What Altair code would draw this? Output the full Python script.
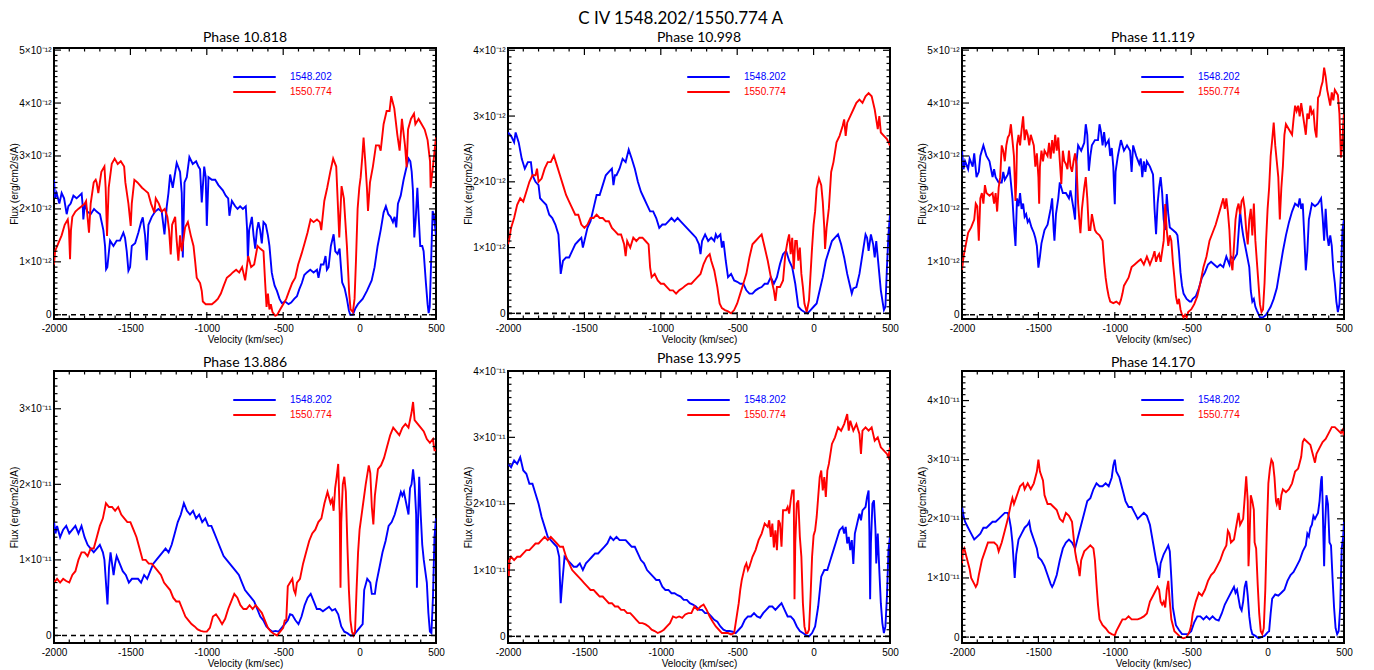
import altair as alt
import pandas as pd

TITLE = "C IV 1548.202/1550.774 A"
PHASES = ["Phase 10.818", "Phase 10.998", "Phase 11.119",
          "Phase 13.886", "Phase 13.995", "Phase 14.170"]
LINES = ["1548.202", "1550.774"]
COLORS = ["#0000ff", "#ff0000"]
EXPONENTS = ["⁻¹²", "⁻¹²", "⁻¹²", "⁻¹¹", "⁻¹¹", "⁻¹¹"]
Y_RANGES = [(-0.08, 5.04), (-0.086, 4.035), (-0.08, 5.04),
            (-0.1, 3.5), (-0.1, 4.0), (-0.1, 4.5)]
X_LABELS = [-2000, -1500, -1000, -500, 0, 500]

# (velocity km/s, flux in units of 1e-12 for the top row, 1e-11 for the bottom row)
P1_BLUE = [(-2000,2.55),(-1993,2.2),(-1983,2.3),(-1965,2.1),(-1950,2.3),(-1934,2.2),(-1917,1.9),(-1906,2.05),(-1891,2.1),(-1873,2.25),(-1852,2.2),(-1819,2.29),(-1812,2.05),(-1808,1.8),(-1797,2.1),(-1782,1.95),(-1760,1.9),(-1738,2.0),(-1721,1.95),(-1699,1.9),(-1677,1.6),(-1666,1.3),(-1659,0.86),(-1651,0.9),(-1633,1.4),(-1611,1.3),(-1590,1.4),(-1568,1.4),(-1546,1.55),(-1535,1.45),(-1524,1.2),(-1513,0.83),(-1502,0.9),(-1491,1.3),(-1469,1.35),(-1448,1.55),(-1430,1.75),(-1419,1.84),(-1404,1.5),(-1393,1.03),(-1382,1.7),(-1360,1.85),(-1338,1.95),(-1317,2.0),(-1295,1.95),(-1277,1.52),(-1262,2.05),(-1251,2.3),(-1240,2.65),(-1223,2.4),(-1197,2.87),(-1175,2.7),(-1164,2.3),(-1157,1.08),(-1146,2.5),(-1131,2.6),(-1114,2.98),(-1092,2.85),(-1070,2.9),(-1055,2.8),(-1044,2.75),(-1033,2.12),(-1017,2.8),(-1007,2.6),(-1000,1.68),(-989,2.6),(-967,2.55),(-945,2.55),(-924,2.45),(-895,2.35),(-876,2.25),(-860,2.2),(-852,1.87),(-836,2.15),(-814,2.05),(-799,2.0),(-782,2.05),(-764,2.0),(-745,2.05),(-736,1.6),(-731,1.05),(-723,1.6),(-705,1.85),(-694,1.5),(-683,1.25),(-672,1.6),(-662,1.75),(-651,1.6),(-640,1.35),(-629,1.75),(-614,1.7),(-600,1.5),(-590,1.3),(-575,0.8),(-568,0.7),(-556,0.55),(-541,0.45),(-524,0.3),(-509,0.22),(-487,0.25),(-465,0.2),(-448,0.23),(-428,0.3),(-410,0.35),(-395,0.48),(-378,0.6),(-362,0.75),(-345,0.8),(-323,0.85),(-301,0.8),(-279,0.85),(-269,0.7),(-253,0.95),(-236,0.95),(-223,1.11),(-214,0.85),(-203,0.9),(-188,1.3),(-170,1.52),(-159,1.2),(-144,1.15),(-131,1.25),(-122,0.9),(-114,0.61),(-98,0.5),(-83,0.3),(-70,0.08),(-61,0.0),(-44,0.0),(-28,0.12),(-11,0.2),(20,0.3),(48,0.45),(79,0.65),(98,0.9),(118,1.3),(138,1.6),(157,1.93),(172,2.05),(188,1.9),(203,1.85),(218,1.75),(229,1.85),(240,1.65),(251,2.1),(269,2.25),(288,2.55),(308,2.8),(321,2.95),(332,2.9),(341,2.7),(349,2.35),(358,1.46),(367,1.8),(378,2.4),(386,1.9),(397,1.3),(410,1.3),(419,1.2),(434,0.6),(445,0.2),(452,0.03),(459,0.15),(467,0.9),(478,1.96),(485,1.9),(500,1.5)]
P1_RED = [(-2000,0.95),(-1993,1.2),(-1972,1.35),(-1950,1.5),(-1930,1.7),(-1910,1.8),(-1902,1.6),(-1895,1.05),(-1889,1.6),(-1880,1.85),(-1860,1.95),(-1841,2.0),(-1819,2.05),(-1799,2.1),(-1790,2.15),(-1779,1.8),(-1771,1.55),(-1760,2.1),(-1740,2.5),(-1727,2.55),(-1721,2.5),(-1710,2.3),(-1690,2.7),(-1670,2.8),(-1662,2.4),(-1653,1.49),(-1642,2.4),(-1622,2.85),(-1603,2.95),(-1583,2.85),(-1563,2.9),(-1541,2.8),(-1533,2.5),(-1513,2.1),(-1498,1.68),(-1491,2.1),(-1474,2.55),(-1454,2.5),(-1424,2.4),(-1404,2.35),(-1384,2.3),(-1365,2.1),(-1343,1.93),(-1334,2.2),(-1314,2.1),(-1295,1.95),(-1275,2.0),(-1258,1.85),(-1247,1.6),(-1236,1.14),(-1227,1.7),(-1207,1.85),(-1197,1.4),(-1186,1.02),(-1175,1.5),(-1164,1.2),(-1142,1.65),(-1124,1.75),(-1105,1.5),(-1087,1.3),(-1076,1.0),(-1066,0.7),(-1044,0.6),(-1033,0.45),(-1026,0.25),(-1007,0.2),(-985,0.2),(-967,0.2),(-945,0.25),(-928,0.3),(-908,0.4),(-889,0.55),(-869,0.7),(-847,0.75),(-830,0.8),(-808,0.85),(-788,0.8),(-769,0.9),(-749,0.65),(-729,1.11),(-710,0.9),(-690,0.95),(-668,1.3),(-651,1.25),(-629,1.2),(-618,0.6),(-609,0.15),(-600,0.4),(-590,0.1),(-581,0.2),(-570,0.05),(-552,-0.02),(-539,0.0),(-520,0.1),(-500,0.2),(-480,0.3),(-461,0.45),(-441,0.6),(-421,0.7),(-402,0.95),(-380,1.15),(-360,1.35),(-341,1.55),(-321,1.8),(-301,1.75),(-279,1.8),(-260,1.75),(-251,1.6),(-231,2.15),(-212,2.4),(-192,2.7),(-173,2.95),(-153,2.8),(-133,1.46),(-118,2.43),(-103,2.2),(-83,1.3),(-68,0.4),(-59,0.1),(-44,0.05),(-33,0.3),(-24,1.0),(-13,2.0),(-2,2.4),(7,2.6),(18,3.0),(26,3.35),(37,2.9),(48,2.4),(55,1.96),(68,2.5),(87,2.8),(107,3.2),(127,3.2),(138,3.1),(157,3.6),(177,3.85),(196,3.85),(207,4.13),(227,3.9),(247,3.4),(262,3.1),(277,3.7),(297,3.2),(308,2.79),(317,3.5),(336,3.7),(356,3.8),(365,3.6),(386,3.7),(406,3.6),(426,3.5),(445,3.3),(461,2.9),(465,2.4),(480,2.8),(500,3.35)]
P2_BLUE = [(-2000,2.75),(-1980,2.7),(-1960,2.6),(-1950,2.75),(-1930,2.6),(-1910,2.35),(-1890,2.2),(-1870,2.3),(-1850,2.3),(-1840,2.1),(-1820,2.0),(-1800,1.95),(-1790,1.75),(-1770,1.7),(-1750,1.65),(-1730,1.5),(-1710,1.45),(-1690,1.35),(-1670,1.2),(-1655,0.6),(-1640,0.8),(-1620,0.85),(-1600,0.85),(-1580,0.95),(-1560,1.05),(-1540,1.1),(-1520,1.15),(-1510,1.0),(-1500,1.1),(-1480,1.3),(-1460,1.4),(-1440,1.6),(-1420,1.8),(-1400,1.8),(-1380,1.95),(-1360,2.1),(-1340,2.15),(-1320,2.2),(-1310,1.95),(-1300,2.1),(-1290,2.1),(-1270,2.2),(-1250,2.35),(-1230,2.3),(-1210,2.49),(-1190,2.35),(-1170,2.2),(-1150,2.0),(-1130,1.85),(-1110,1.75),(-1090,1.65),(-1070,1.55),(-1050,1.55),(-1030,1.45),(-1010,1.3),(-990,1.35),(-970,1.35),(-950,1.4),(-930,1.45),(-910,1.4),(-890,1.45),(-870,1.4),(-850,1.35),(-830,1.3),(-810,1.25),(-790,1.2),(-770,1.15),(-750,1.05),(-740,0.9),(-730,1.1),(-710,1.2),(-690,1.1),(-670,1.15),(-650,1.1),(-640,1.2),(-630,1.15),(-610,1.2),(-600,1.0),(-590,1.1),(-575,0.8),(-560,0.55),(-540,0.6),(-520,0.5),(-500,0.48),(-480,0.45),(-460,0.45),(-440,0.35),(-420,0.3),(-400,0.3),(-380,0.35),(-360,0.38),(-340,0.4),(-320,0.45),(-300,0.45),(-280,0.55),(-260,0.45),(-240,0.55),(-220,0.75),(-200,0.9),(-180,0.95),(-160,0.8),(-140,0.7),(-120,0.45),(-100,0.1),(-80,0.05),(-60,0.02),(-40,0.0),(-20,0.05),(0,0.1),(20,0.15),(40,0.35),(60,0.55),(80,0.8),(100,0.95),(120,1.1),(140,1.15),(160,1.2),(180,1.05),(200,0.85),(220,0.6),(240,0.4),(250,0.3),(260,0.38),(280,0.4),(300,0.6),(320,0.9),(340,1.2),(350,1.15),(360,0.95),(375,1.2),(390,1.05),(400,0.85),(410,1.1),(420,0.85),(440,0.35),(460,0.05),(470,0.1),(480,0.7),(490,1.2),(500,1.5)]
P2_RED = [(-2000,1.05),(-1990,1.15),(-1980,1.3),(-1960,1.45),(-1940,1.65),(-1920,1.75),(-1900,1.7),(-1880,1.85),(-1860,2.0),(-1840,2.1),(-1820,2.1),(-1810,2.2),(-1800,2.0),(-1780,2.05),(-1760,2.2),(-1740,2.3),(-1720,2.3),(-1700,2.4),(-1680,2.25),(-1660,2.1),(-1640,1.95),(-1620,1.8),(-1600,1.7),(-1580,1.6),(-1560,1.5),(-1540,1.5),(-1520,1.35),(-1500,1.3),(-1480,1.35),(-1460,1.45),(-1440,1.45),(-1420,1.5),(-1400,1.45),(-1380,1.45),(-1360,1.4),(-1340,1.4),(-1320,1.3),(-1300,1.25),(-1280,1.2),(-1260,1.2),(-1240,1.05),(-1230,0.87),(-1220,1.1),(-1200,1.0),(-1180,1.15),(-1160,1.1),(-1140,1.15),(-1120,1.15),(-1100,1.1),(-1080,1.05),(-1070,0.7),(-1060,0.55),(-1040,0.6),(-1020,0.5),(-1000,0.45),(-980,0.45),(-960,0.4),(-940,0.35),(-920,0.35),(-900,0.3),(-880,0.35),(-860,0.38),(-840,0.42),(-820,0.45),(-800,0.45),(-780,0.5),(-760,0.55),(-740,0.6),(-720,0.75),(-700,0.85),(-680,0.9),(-670,0.8),(-650,0.65),(-630,0.4),(-615,0.15),(-600,0.08),(-580,0.05),(-560,0.03),(-540,0.0),(-520,0.05),(-500,0.15),(-480,0.3),(-460,0.45),(-440,0.6),(-420,0.85),(-400,1.05),(-380,1.1),(-360,1.15),(-340,1.2),(-320,1.0),(-300,0.8),(-280,0.55),(-260,0.35),(-250,0.19),(-240,0.4),(-220,0.4),(-200,0.5),(-185,0.9),(-170,1.1),(-160,1.2),(-150,0.9),(-140,1.15),(-130,0.67),(-120,1.1),(-110,1.1),(-100,0.8),(-90,1.0),(-80,0.6),(-70,0.4),(-60,0.15),(-45,0.02),(-30,0.2),(-20,0.6),(-10,1.0),(0,1.35),(10,1.55),(20,1.9),(35,2.05),(50,1.95),(60,1.7),(70,1.3),(75,0.98),(85,1.3),(100,1.6),(115,2.15),(130,2.3),(150,2.6),(170,2.7),(190,2.85),(200,2.95),(210,2.7),(220,2.9),(240,3.0),(260,3.1),(280,3.2),(300,3.25),(320,3.2),(340,3.3),(360,3.35),(380,3.3),(400,3.1),(410,2.95),(420,2.8),(430,3.0),(440,2.75),(460,2.7),(480,2.65),(500,2.55)]
P3_BLUE = [(-2000,3.1),(-1990,2.75),(-1980,2.9),(-1960,2.75),(-1950,2.95),(-1930,2.8),(-1920,3.05),(-1905,2.6),(-1890,2.7),(-1880,3.0),(-1860,3.2),(-1840,3.0),(-1820,2.9),(-1800,2.6),(-1790,2.75),(-1780,2.6),(-1760,2.5),(-1740,2.5),(-1730,2.7),(-1720,2.55),(-1700,2.65),(-1690,2.8),(-1680,2.5),(-1670,2.2),(-1660,1.7),(-1650,1.3),(-1640,2.2),(-1630,2.05),(-1620,2.3),(-1610,2.0),(-1600,2.1),(-1590,1.85),(-1580,1.9),(-1570,1.75),(-1560,1.8),(-1545,1.65),(-1530,1.55),(-1520,1.45),(-1510,1.3),(-1500,0.89),(-1490,1.1),(-1480,1.35),(-1460,1.6),(-1440,1.7),(-1420,2.0),(-1410,2.2),(-1400,1.6),(-1395,1.4),(-1385,1.9),(-1370,2.2),(-1360,2.5),(-1340,2.3),(-1320,2.3),(-1300,2.2),(-1290,2.35),(-1270,2.0),(-1260,1.8),(-1250,2.9),(-1240,3.2),(-1220,3.1),(-1200,3.25),(-1190,3.6),(-1180,3.4),(-1170,2.72),(-1160,3.0),(-1150,3.2),(-1130,3.3),(-1110,3.3),(-1100,3.6),(-1090,3.45),(-1080,3.2),(-1070,3.45),(-1060,3.2),(-1040,3.3),(-1030,3.0),(-1020,3.15),(-1010,2.8),(-1005,2.4),(-1000,2.09),(-995,2.7),(-980,3.0),(-960,3.3),(-940,3.1),(-920,3.2),(-900,3.1),(-890,2.7),(-880,3.2),(-860,3.0),(-840,2.85),(-830,2.95),(-820,2.6),(-810,2.9),(-800,2.7),(-790,2.9),(-770,2.8),(-750,2.65),(-740,2.0),(-730,1.52),(-720,2.1),(-710,2.4),(-700,2.6),(-690,2.3),(-680,1.8),(-670,1.6),(-660,2.28),(-650,1.9),(-640,1.65),(-620,1.6),(-600,1.55),(-590,1.5),(-580,1.2),(-570,0.8),(-560,0.55),(-550,0.4),(-530,0.3),(-510,0.25),(-500,0.25),(-490,0.3),(-470,0.35),(-450,0.5),(-430,0.7),(-410,0.8),(-390,0.95),(-370,1.0),(-350,0.95),(-330,0.9),(-310,0.95),(-290,0.9),(-270,1.1),(-250,0.95),(-240,1.1),(-220,1.05),(-200,1.15),(-190,1.55),(-180,1.96),(-170,1.7),(-160,1.5),(-150,1.35),(-140,1.2),(-120,0.9),(-110,0.45),(-100,0.25),(-90,0.3),(-80,0.15),(-70,0.08),(-50,-0.05),(-30,-0.05),(-10,0.0),(0,0.05),(20,0.15),(40,0.3),(60,0.5),(80,0.85),(100,1.2),(120,1.5),(140,1.75),(160,1.95),(180,2.1),(200,2.05),(210,2.2),(220,2.0),(230,2.1),(240,1.5),(250,0.84),(260,1.2),(270,1.8),(290,2.1),(310,2.05),(330,2.1),(350,2.2),(360,1.85),(370,1.4),(380,2.0),(390,1.5),(400,1.3),(410,1.5),(420,1.3),(430,0.85),(440,0.6),(450,0.25),(460,0.05),(470,0.2),(480,0.8),(490,1.6),(500,1.8)]
P3_RED = [(-2000,0.85),(-1990,1.1),(-1980,1.25),(-1960,1.55),(-1940,1.65),(-1920,1.8),(-1910,2.1),(-1900,2.05),(-1890,1.4),(-1880,2.2),(-1870,2.3),(-1860,2.1),(-1850,2.45),(-1840,2.3),(-1820,2.25),(-1800,2.3),(-1790,2.1),(-1780,2.3),(-1770,1.95),(-1760,2.4),(-1750,2.6),(-1740,3.2),(-1730,3.1),(-1720,2.9),(-1710,3.2),(-1700,3.35),(-1690,3.4),(-1680,3.6),(-1670,3.3),(-1660,3.0),(-1650,2.15),(-1645,2.5),(-1640,3.2),(-1630,3.4),(-1620,3.2),(-1610,3.5),(-1600,3.75),(-1590,3.3),(-1580,3.5),(-1570,3.4),(-1560,3.2),(-1550,3.4),(-1540,3.3),(-1530,3.2),(-1520,2.8),(-1510,3.05),(-1500,2.6),(-1495,2.1),(-1490,2.8),(-1480,3.1),(-1470,2.9),(-1460,3.1),(-1440,3.0),(-1430,3.25),(-1420,2.95),(-1410,3.3),(-1400,3.05),(-1390,3.4),(-1380,3.1),(-1370,3.35),(-1360,2.9),(-1350,2.47),(-1340,3.1),(-1330,2.9),(-1320,2.85),(-1310,2.75),(-1300,3.1),(-1290,2.8),(-1280,2.7),(-1270,2.9),(-1260,3.05),(-1250,2.8),(-1240,2.1),(-1230,1.7),(-1225,1.54),(-1215,2.0),(-1200,2.4),(-1190,2.6),(-1180,2.2),(-1170,1.6),(-1160,1.6),(-1150,1.9),(-1140,1.75),(-1130,1.6),(-1120,1.55),(-1100,1.5),(-1090,1.45),(-1080,1.4),(-1070,1.0),(-1060,0.7),(-1050,0.5),(-1040,0.35),(-1030,0.25),(-1010,0.22),(-990,0.25),(-970,0.2),(-960,0.28),(-950,0.4),(-940,0.55),(-930,0.6),(-910,0.7),(-890,0.9),(-870,0.95),(-850,1.0),(-830,1.05),(-810,0.95),(-790,1.1),(-770,0.95),(-750,1.1),(-740,1.2),(-730,1.0),(-720,1.1),(-710,1.15),(-700,1.0),(-690,1.2),(-680,1.4),(-670,2.09),(-660,1.6),(-650,1.3),(-640,1.5),(-630,1.4),(-620,1.0),(-610,0.7),(-600,0.35),(-590,0.2),(-580,0.3),(-570,0.1),(-560,0.0),(-550,-0.05),(-540,0.0),(-530,-0.05),(-520,0.05),(-500,0.1),(-480,0.2),(-460,0.35),(-440,0.6),(-420,0.9),(-400,1.1),(-380,1.4),(-360,1.55),(-340,1.7),(-320,1.9),(-300,2.1),(-290,2.2),(-280,2.0),(-270,2.2),(-260,1.95),(-250,1.6),(-240,1.0),(-230,0.84),(-220,1.3),(-210,1.8),(-200,2.0),(-190,2.1),(-180,1.9),(-170,2.15),(-160,2.2),(-150,2.0),(-140,1.6),(-130,1.33),(-120,1.8),(-110,2.0),(-100,1.5),(-90,2.1),(-80,1.4),(-70,1.0),(-60,0.6),(-50,0.2),(-40,0.05),(-30,0.1),(-20,0.6),(-10,1.4),(0,2.0),(10,2.4),(20,3.0),(30,3.3),(40,3.63),(50,3.2),(60,2.9),(70,2.6),(80,1.8),(90,2.4),(100,2.8),(110,3.4),(120,3.6),(140,3.5),(160,3.4),(170,3.7),(180,3.95),(190,3.85),(200,3.95),(210,3.75),(220,4.0),(230,3.8),(240,3.6),(250,3.4),(260,3.8),(270,3.7),(280,3.95),(290,3.8),(300,3.85),(310,3.5),(320,3.35),(330,4.1),(340,4.15),(350,4.3),(360,4.4),(370,4.67),(380,4.5),(390,4.25),(400,4.1),(410,3.95),(420,4.2),(430,4.05),(440,4.25),(450,4.2),(460,4.15),(470,3.8),(480,2.97),(490,3.3),(495,3.6),(500,3.8)]
P4_BLUE = [(-2000,1.5),(-1990,1.35),(-1980,1.45),(-1960,1.3),(-1940,1.4),(-1920,1.45),(-1900,1.35),(-1880,1.4),(-1860,1.45),(-1840,1.35),(-1820,1.45),(-1800,1.3),(-1780,1.2),(-1760,1.15),(-1740,1.1),(-1720,1.15),(-1700,1.2),(-1690,1.15),(-1680,1.1),(-1670,1.0),(-1660,0.7),(-1650,0.41),(-1640,0.9),(-1630,1.1),(-1620,0.95),(-1610,0.8),(-1600,0.95),(-1590,1.05),(-1570,0.95),(-1550,0.85),(-1530,0.8),(-1510,0.7),(-1490,0.75),(-1470,0.75),(-1450,0.75),(-1430,0.7),(-1410,0.8),(-1390,0.75),(-1370,0.85),(-1350,0.95),(-1330,1.0),(-1310,1.05),(-1290,1.1),(-1270,1.15),(-1250,1.1),(-1230,1.2),(-1210,1.35),(-1190,1.5),(-1170,1.6),(-1150,1.75),(-1130,1.65),(-1110,1.6),(-1090,1.65),(-1070,1.55),(-1050,1.6),(-1030,1.5),(-1010,1.55),(-990,1.45),(-970,1.45),(-950,1.35),(-930,1.25),(-910,1.15),(-890,1.05),(-870,1.0),(-850,0.95),(-830,0.9),(-810,0.85),(-790,0.8),(-770,0.7),(-750,0.6),(-730,0.55),(-710,0.5),(-690,0.45),(-670,0.35),(-650,0.25),(-630,0.2),(-610,0.12),(-590,0.08),(-570,0.05),(-550,0.06),(-530,0.05),(-510,0.1),(-490,0.15),(-470,0.2),(-455,0.28),(-440,0.27),(-420,0.2),(-400,0.15),(-380,0.25),(-360,0.4),(-340,0.5),(-320,0.55),(-300,0.45),(-280,0.35),(-260,0.35),(-240,0.32),(-220,0.35),(-200,0.38),(-180,0.33),(-160,0.35),(-140,0.28),(-120,0.12),(-100,0.05),(-80,0.03),(-60,0.0),(-40,0.0),(-20,0.05),(0,0.1),(20,0.15),(30,0.6),(50,0.75),(70,0.7),(80,0.55),(100,0.55),(110,0.7),(130,0.9),(150,1.1),(170,1.25),(190,1.45),(210,1.5),(230,1.6),(250,1.75),(270,1.9),(280,1.85),(290,1.9),(300,1.8),(310,1.7),(320,1.6),(330,1.95),(340,2.0),(350,2.2),(360,2.0),(370,1.6),(375,0.63),(380,1.3),(390,2.1),(400,1.6),(410,1.2),(420,1.0),(440,0.7),(450,0.3),(460,0.05),(470,0.03),(480,0.5),(490,1.3),(500,1.55)]
P4_RED = [(-2000,0.7),(-1980,0.75),(-1960,0.7),(-1940,0.75),(-1920,0.72),(-1900,0.7),(-1880,0.8),(-1860,0.85),(-1840,1.0),(-1820,1.1),(-1800,1.1),(-1780,1.05),(-1760,1.15),(-1740,1.15),(-1720,1.3),(-1700,1.45),(-1680,1.55),(-1660,1.75),(-1640,1.7),(-1620,1.7),(-1600,1.65),(-1580,1.7),(-1560,1.6),(-1540,1.55),(-1520,1.5),(-1500,1.5),(-1480,1.4),(-1460,1.3),(-1440,1.15),(-1420,1.0),(-1400,1.0),(-1380,0.95),(-1360,0.95),(-1340,0.9),(-1320,0.85),(-1300,0.8),(-1280,0.7),(-1260,0.65),(-1240,0.6),(-1220,0.5),(-1200,0.45),(-1180,0.45),(-1160,0.35),(-1140,0.25),(-1120,0.2),(-1100,0.15),(-1080,0.12),(-1060,0.08),(-1040,0.06),(-1020,0.05),(-1000,0.05),(-980,0.1),(-960,0.25),(-940,0.28),(-920,0.22),(-900,0.15),(-880,0.22),(-860,0.35),(-840,0.45),(-820,0.55),(-800,0.5),(-780,0.4),(-760,0.35),(-740,0.35),(-720,0.4),(-700,0.35),(-680,0.4),(-660,0.35),(-640,0.3),(-620,0.2),(-600,0.1),(-580,0.05),(-560,0.02),(-540,0.0),(-520,0.05),(-500,0.1),(-490,0.2),(-480,0.2),(-470,0.65),(-455,0.7),(-440,0.75),(-430,0.6),(-420,0.55),(-410,0.7),(-390,0.75),(-370,0.95),(-350,1.1),(-330,1.25),(-310,1.35),(-290,1.4),(-270,1.5),(-250,1.55),(-230,1.75),(-210,1.9),(-190,1.75),(-180,1.8),(-170,1.65),(-160,1.95),(-150,2.1),(-140,2.27),(-130,1.6),(-125,0.63),(-120,1.5),(-110,2.0),(-100,2.1),(-90,1.9),(-80,1.2),(-70,0.6),(-60,0.2),(-50,0.05),(-40,0.0),(-30,0.05),(-20,0.6),(-10,1.1),(0,1.4),(20,1.7),(40,2.0),(60,2.25),(70,2.15),(80,1.7),(90,1.47),(100,1.85),(120,2.2),(140,2.25),(160,2.35),(180,2.5),(200,2.65),(220,2.75),(240,2.7),(260,2.65),(280,2.75),(300,2.8),(320,2.75),(340,2.95),(350,3.09),(360,2.85),(380,2.8),(400,2.75),(420,2.7),(440,2.6),(460,2.55),(480,2.6),(490,2.45),(500,2.45)]
P5_BLUE = [(-2000,2.6),(-1980,2.55),(-1960,2.65),(-1940,2.6),(-1920,2.7),(-1900,2.5),(-1880,2.45),(-1860,2.3),(-1840,2.3),(-1820,2.15),(-1800,2.0),(-1780,1.8),(-1760,1.65),(-1740,1.5),(-1720,1.45),(-1700,1.4),(-1680,1.35),(-1665,1.2),(-1655,0.5),(-1645,0.8),(-1630,1.2),(-1610,1.15),(-1590,1.1),(-1570,1.05),(-1550,1.05),(-1530,1.1),(-1510,1.0),(-1490,1.1),(-1470,1.15),(-1450,1.2),(-1430,1.25),(-1410,1.25),(-1390,1.3),(-1370,1.35),(-1350,1.4),(-1330,1.5),(-1310,1.45),(-1290,1.5),(-1270,1.45),(-1250,1.45),(-1230,1.45),(-1210,1.4),(-1190,1.35),(-1170,1.35),(-1150,1.25),(-1130,1.15),(-1110,1.1),(-1090,1.0),(-1070,0.95),(-1050,0.9),(-1030,0.85),(-1010,0.85),(-990,0.75),(-970,0.7),(-950,0.7),(-930,0.65),(-910,0.65),(-890,0.62),(-870,0.6),(-850,0.55),(-830,0.55),(-810,0.5),(-790,0.48),(-770,0.45),(-750,0.4),(-730,0.4),(-710,0.35),(-690,0.35),(-670,0.3),(-650,0.25),(-630,0.22),(-610,0.15),(-590,0.1),(-570,0.08),(-550,0.08),(-530,0.07),(-510,0.05),(-490,0.1),(-470,0.15),(-450,0.25),(-430,0.3),(-410,0.3),(-390,0.35),(-370,0.3),(-350,0.28),(-330,0.35),(-310,0.4),(-290,0.45),(-270,0.45),(-250,0.4),(-230,0.45),(-210,0.5),(-190,0.4),(-170,0.3),(-150,0.3),(-130,0.25),(-110,0.15),(-90,0.08),(-70,0.05),(-50,0.02),(-30,0.0),(-10,0.05),(10,0.15),(30,0.45),(50,0.9),(70,1.0),(90,1.0),(110,1.15),(130,1.3),(150,1.45),(170,1.6),(190,1.65),(200,1.55),(210,1.65),(220,1.4),(230,1.5),(240,1.3),(250,1.45),(260,1.09),(270,1.55),(290,1.75),(300,1.85),(310,1.75),(320,1.9),(340,1.95),(350,2.1),(360,2.2),(365,1.6),(370,0.56),(375,1.4),(385,2.0),(395,2.05),(405,1.6),(410,1.1),(420,1.55),(430,1.0),(440,0.5),(450,0.2),(460,0.05),(470,0.15),(480,0.6),(490,1.3),(500,1.5)]
P5_RED = [(-2000,1.15),(-1995,0.9),(-1990,1.15),(-1980,1.2),(-1960,1.15),(-1940,1.2),(-1920,1.2),(-1900,1.25),(-1880,1.3),(-1860,1.3),(-1840,1.35),(-1820,1.4),(-1800,1.4),(-1780,1.45),(-1760,1.5),(-1740,1.45),(-1720,1.5),(-1700,1.45),(-1680,1.4),(-1660,1.35),(-1640,1.35),(-1620,1.2),(-1600,1.1),(-1580,1.0),(-1560,0.95),(-1540,0.9),(-1520,0.85),(-1500,0.8),(-1480,0.75),(-1460,0.7),(-1440,0.7),(-1420,0.65),(-1400,0.6),(-1380,0.6),(-1360,0.55),(-1340,0.5),(-1320,0.5),(-1300,0.45),(-1280,0.45),(-1260,0.4),(-1240,0.4),(-1220,0.35),(-1200,0.35),(-1180,0.3),(-1160,0.25),(-1140,0.2),(-1120,0.2),(-1100,0.18),(-1080,0.15),(-1060,0.1),(-1040,0.08),(-1020,0.05),(-1000,0.07),(-980,0.1),(-960,0.15),(-940,0.2),(-920,0.3),(-900,0.28),(-880,0.3),(-860,0.28),(-840,0.33),(-820,0.35),(-800,0.35),(-780,0.45),(-760,0.4),(-740,0.45),(-720,0.48),(-700,0.4),(-680,0.3),(-660,0.22),(-640,0.15),(-620,0.1),(-600,0.05),(-580,0.05),(-560,0.05),(-540,0.03),(-520,0.05),(-510,0.2),(-500,0.35),(-490,0.5),(-480,0.7),(-470,0.85),(-460,0.95),(-450,1.05),(-440,1.1),(-430,1.0),(-420,1.05),(-400,1.2),(-380,1.3),(-360,1.45),(-340,1.55),(-320,1.7),(-300,1.65),(-290,1.75),(-280,1.5),(-270,1.7),(-260,1.34),(-250,1.6),(-240,1.3),(-230,1.75),(-220,1.7),(-210,1.35),(-200,1.9),(-180,1.9),(-170,1.95),(-160,1.85),(-150,2.05),(-140,2.2),(-130,2.2),(-125,0.56),(-120,1.4),(-110,2.0),(-100,2.05),(-90,1.5),(-80,1.2),(-70,0.5),(-60,0.15),(-50,0.05),(-40,0.05),(-30,0.1),(-20,0.6),(-10,1.2),(0,1.52),(10,1.6),(20,1.8),(30,2.1),(40,2.4),(50,2.5),(60,2.2),(70,2.4),(80,2.1),(90,2.5),(100,2.6),(120,2.9),(140,3.0),(160,3.15),(180,3.1),(200,3.2),(220,3.35),(230,3.1),(240,3.25),(260,3.1),(280,3.2),(300,3.05),(310,2.75),(320,3.1),(340,3.15),(360,3.1),(380,3.15),(400,2.95),(420,3.0),(440,2.85),(460,2.8),(480,2.75),(490,2.7),(500,2.85)]
P6_BLUE = [(-2000,2.2),(-1990,2.05),(-1980,1.95),(-1960,1.85),(-1940,1.75),(-1920,1.65),(-1900,1.7),(-1880,1.75),(-1860,1.85),(-1840,1.85),(-1820,1.9),(-1800,1.95),(-1780,1.95),(-1760,2.0),(-1740,2.05),(-1720,2.1),(-1700,2.1),(-1690,2.0),(-1680,1.85),(-1670,1.6),(-1660,1.2),(-1655,1.0),(-1645,1.4),(-1630,1.65),(-1610,1.75),(-1590,1.85),(-1570,1.9),(-1560,1.95),(-1550,1.8),(-1530,1.65),(-1510,1.5),(-1500,1.35),(-1480,1.3),(-1460,1.2),(-1440,1.05),(-1420,0.9),(-1410,0.85),(-1400,0.9),(-1380,1.05),(-1360,1.3),(-1340,1.5),(-1320,1.6),(-1300,1.65),(-1280,1.6),(-1260,1.5),(-1240,1.7),(-1220,1.9),(-1200,2.1),(-1180,2.3),(-1160,2.35),(-1140,2.5),(-1120,2.6),(-1100,2.55),(-1080,2.55),(-1060,2.6),(-1040,2.55),(-1020,2.7),(-1010,2.9),(-1000,3.0),(-990,2.8),(-970,2.7),(-950,2.5),(-930,2.3),(-910,2.2),(-890,2.2),(-870,2.1),(-850,2.0),(-830,2.05),(-810,2.1),(-790,2.05),(-770,1.9),(-750,1.6),(-730,1.3),(-720,1.2),(-710,1.0),(-700,1.25),(-680,1.4),(-660,1.5),(-650,1.55),(-640,1.45),(-630,1.0),(-620,0.5),(-600,0.2),(-580,0.12),(-560,0.05),(-540,0.05),(-520,0.05),(-500,0.1),(-480,0.25),(-460,0.35),(-440,0.35),(-420,0.3),(-400,0.35),(-380,0.3),(-360,0.35),(-340,0.3),(-320,0.28),(-300,0.4),(-280,0.55),(-260,0.65),(-240,0.75),(-220,0.85),(-210,0.75),(-200,0.8),(-190,0.65),(-180,0.5),(-170,0.45),(-160,0.6),(-150,0.85),(-140,0.95),(-130,0.7),(-120,0.35),(-110,0.15),(-100,0.05),(-80,0.02),(-60,-0.02),(-40,0.0),(-20,0.02),(0,0.08),(10,0.1),(20,0.4),(30,0.65),(50,0.72),(70,0.7),(90,0.75),(110,0.8),(130,0.95),(150,1.05),(170,1.1),(190,1.2),(210,1.3),(230,1.45),(250,1.55),(260,1.75),(270,1.7),(280,1.85),(290,1.9),(300,2.05),(310,2.0),(320,2.05),(330,2.1),(340,2.3),(350,2.65),(355,2.72),(360,2.3),(365,1.7),(370,1.2),(375,1.8),(385,2.4),(395,2.25),(405,1.6),(415,1.55),(425,1.0),(435,0.5),(445,0.15),(455,0.05),(465,0.1),(475,0.5),(485,1.5),(495,1.7),(500,1.95)]
P6_RED = [(-2000,1.25),(-1995,1.45),(-1985,1.5),(-1970,1.35),(-1960,1.25),(-1950,1.15),(-1940,1.0),(-1920,0.9),(-1910,0.85),(-1900,0.9),(-1890,1.05),(-1870,1.3),(-1850,1.45),(-1830,1.6),(-1810,1.6),(-1790,1.6),(-1770,1.55),(-1760,1.45),(-1740,1.6),(-1720,1.8),(-1700,2.0),(-1680,2.25),(-1670,2.35),(-1660,2.25),(-1640,2.4),(-1620,2.55),(-1600,2.6),(-1590,2.5),(-1570,2.6),(-1550,2.5),(-1530,2.6),(-1510,2.8),(-1500,3.0),(-1490,2.8),(-1470,2.65),(-1460,2.4),(-1440,2.25),(-1420,2.25),(-1400,2.2),(-1380,2.15),(-1360,2.0),(-1340,1.95),(-1320,2.1),(-1300,2.05),(-1280,1.95),(-1270,1.7),(-1260,1.45),(-1250,1.3),(-1240,1.2),(-1230,1.03),(-1220,1.3),(-1200,1.45),(-1180,1.5),(-1160,1.55),(-1140,1.5),(-1130,1.3),(-1120,0.9),(-1110,0.55),(-1100,0.3),(-1080,0.2),(-1060,0.15),(-1040,0.08),(-1020,0.05),(-1000,0.03),(-990,0.1),(-970,0.2),(-950,0.3),(-930,0.3),(-910,0.35),(-890,0.3),(-870,0.3),(-850,0.3),(-830,0.32),(-810,0.35),(-790,0.4),(-770,0.6),(-750,0.7),(-730,0.8),(-720,0.85),(-710,0.8),(-700,0.6),(-690,0.55),(-680,0.6),(-670,0.5),(-660,0.8),(-650,0.95),(-640,0.6),(-630,0.3),(-610,0.1),(-590,0.05),(-570,0.0),(-550,-0.02),(-530,0.0),(-510,0.1),(-500,0.2),(-490,0.4),(-470,0.6),(-450,0.75),(-430,0.7),(-410,0.8),(-390,0.95),(-370,1.05),(-350,1.1),(-330,1.2),(-310,1.3),(-290,1.45),(-270,1.55),(-260,1.8),(-250,1.75),(-240,1.6),(-220,1.65),(-200,1.95),(-190,2.1),(-180,1.9),(-170,1.95),(-160,2.0),(-150,2.35),(-140,2.72),(-130,2.3),(-125,1.2),(-120,1.5),(-110,2.4),(-100,2.3),(-90,2.15),(-85,1.6),(-75,1.5),(-65,0.9),(-55,0.4),(-45,0.1),(-35,0.05),(-25,0.15),(-15,0.8),(-5,1.8),(5,2.6),(15,2.85),(25,3.0),(35,2.95),(45,2.7),(55,2.3),(60,2.25),(70,2.35),(80,2.15),(90,2.4),(100,2.5),(120,2.45),(140,2.5),(160,2.6),(180,2.8),(200,2.85),(210,2.95),(220,3.05),(230,3.3),(240,3.35),(260,3.3),(280,3.25),(300,3.05),(310,2.95),(320,3.1),(340,3.2),(360,3.3),(380,3.35),(400,3.45),(420,3.55),(440,3.55),(460,3.5),(480,3.45),(490,3.5),(500,3.4)]

SERIES = [(P1_BLUE, P1_RED), (P2_BLUE, P2_RED), (P3_BLUE, P3_RED),
          (P4_BLUE, P4_RED), (P5_BLUE, P5_RED), (P6_BLUE, P6_RED)]

W = 382
HEIGHTS = [271, 271, 271, 272, 272, 272]
AXIS_FONT = "Liberation Sans"
TITLE_FONT = "Lato"


def make_panel(i):
    blue, red = SERIES[i]
    h = HEIGHTS[i]
    lo, hi = Y_RANGES[i]
    df = pd.concat([
        pd.DataFrame(blue, columns=["v", "f"]).assign(line=LINES[0]),
        pd.DataFrame(red, columns=["v", "f"]).assign(line=LINES[1]),
    ])

    x = alt.X(
        "v:Q",
        scale=alt.Scale(domain=[-2000, 500], nice=False, zero=False),
        axis=alt.Axis(values=X_LABELS, labelExpr="'' + datum.value", title="Velocity (km/sec)",
                      ticks=False, domain=False, grid=False, labelFlush=False,
                      labelPadding=4, titlePadding=1),
    )
    y_vals = [k for k in range(0, 6) if k <= hi]
    y = alt.Y(
        "f:Q",
        scale=alt.Scale(domain=[lo, hi], nice=False, zero=False),
        axis=alt.Axis(values=y_vals,
                      labelExpr=f"datum.value == 0 ? '0' : datum.value + '×10{EXPONENTS[i]}'",
                      title="Flux (erg/cm2/s/A)", ticks=False, domain=False, grid=False,
                      labelFlush=False, labelPadding=3, minExtent=33, maxExtent=33,
                      titlePadding=2),
    )

    lines = alt.Chart(df).mark_line(strokeWidth=1.9, clip=True).encode(
        x=x, y=y,
        color=alt.Color("line:N", scale=alt.Scale(domain=LINES, range=COLORS),
                        legend=alt.Legend(
                            orient="none", legendX=178, legendY=23, title=None,
                            direction="vertical", symbolType="stroke", symbolSize=1806,
                            symbolStrokeWidth=2, clipHeight=12, labelFontSize=10,
                            labelFont=AXIS_FONT, labelOffset=13, rowPadding=3, padding=0,
                            labelColor=alt.ExprRef(
                                expr=f"datum.value == '{LINES[0]}' ? '{COLORS[0]}' : '{COLORS[1]}'"),
                        )),
    )

    zero = alt.Chart(pd.DataFrame({"f": [0.0]})).mark_rule(
        color="black", strokeDash=[5, 4], strokeWidth=1.6).encode(y=y)

    # IDL-style inward ticks on all four sides
    x_minor = [v for v in range(-2000, 501, 100) if v % 500]
    y_minor = [k / 10 for k in range(0, int(hi * 10) + 1) if k % 10]

    def xt(vals, size):
        d = pd.DataFrame({"v": vals})
        base = alt.Chart(d).mark_rule(color="black", strokeWidth=1.2)
        return [base.encode(x=x, y=alt.value(h), y2=alt.value(h - size)),
                base.encode(x=x, y=alt.value(0), y2=alt.value(size))]

    def yt(vals, size):
        d = pd.DataFrame({"f": vals})
        base = alt.Chart(d).mark_rule(color="black", strokeWidth=1.2)
        return [base.encode(y=y, x=alt.value(0), x2=alt.value(size)),
                base.encode(y=y, x=alt.value(W), x2=alt.value(W - size))]

    ticks = xt(X_LABELS, 7) + xt(x_minor, 3.5) + yt(y_vals, 7) + yt(y_minor, 3.5)

    return alt.layer(lines, *ticks, zero).properties(
        width=W, height=h,
        title=alt.TitleParams(PHASES[i], font=TITLE_FONT, fontSize=14,
                              fontWeight="normal", offset=0, color="black"),
    )


chart = alt.concat(
    *[make_panel(i) for i in range(6)],
    columns=3,
    spacing={"row": 52, "column": 72},
    bounds="flush",
    padding={"top": 2, "left": 0, "right": 0, "bottom": 0},
    title=alt.TitleParams(TITLE, font=TITLE_FONT, fontSize=17, fontWeight="normal",
                          anchor="middle", offset=2, color="black"),
).resolve_scale(
    x="independent", y="independent", color="independent"
).resolve_legend(
    color="independent"
).configure_view(
    stroke="black", strokeWidth=2
).configure_axis(
    labelFont=AXIS_FONT, titleFont=AXIS_FONT, labelFontSize=10, titleFontSize=10,
    labelColor="black", titleColor="black", titleFontWeight="normal",
)

chart.save("out.html", embed_options={"renderer": "svg", "actions": False})
